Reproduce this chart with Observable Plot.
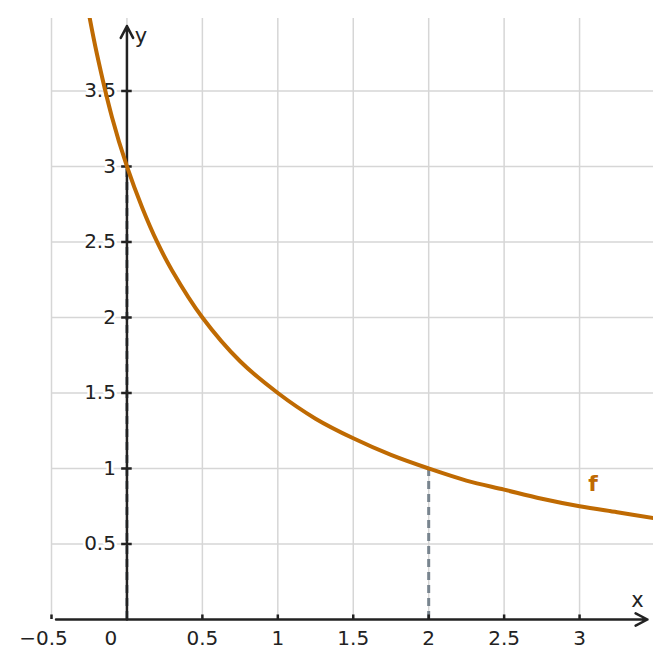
<!DOCTYPE html>
<html><head><meta charset="utf-8">
<script src="https://cdn.jsdelivr.net/npm/d3@7"></script>
<script src="https://cdn.jsdelivr.net/npm/@observablehq/plot@0.6"></script>
<style>body{margin:0;background:#fff;} svg{display:block;}</style>
</head><body><div id="chart"></div>
<script>
// curve points
const curveX = [-0.25, -0.2, -0.1, 0, 0.1, 0.2, 0.3, 0.5, 0.75, 1, 1.25, 1.5, 1.75, 2, 2.25, 2.5, 2.75, 3, 3.25, 3.5];
const curveY = [4.0, 3.75, 3.33, 3.0, 2.73, 2.5, 2.31, 2.0, 1.71, 1.5, 1.33, 1.2, 1.09, 1.0, 0.92, 0.86, 0.8, 0.75, 0.71, 0.67];
const xTicks = [-0.5, 0, 0.5, 1, 1.5, 2, 2.5, 3];
const xTickLabels = ["−0.5", "0", "0.5", "1", "1.5", "2", "2.5", "3"];
const yTicks = [0.5, 1, 1.5, 2, 2.5, 3, 3.5];
const yTickLabels = ["0.5", "1", "1.5", "2", "2.5", "3", "3.5"];
const marked = {x: 2, y: 1};
const curveLabel = {x: 3.09, y: 0.9, text: "f"};

const curve = curveX.map((x, i) => ({x, y: curveY[i]}));
const xt = xTicks.map((v, i) => ({v, label: xTickLabels[i]}));
const yt = yTicks.map((v, i) => ({v, label: yTickLabels[i]}));
const font = "DejaVu Sans";
const gridColor = "#d6d6d6";
const axisColor = "#222";
const dashColor = "#78848e";
const fColor = "#bf6a02";

const labelStyle = {fontSize: 20, fill: axisColor, stroke: "white", strokeWidth: 5, paintOrder: "stroke"};

const chart = Plot.plot({
  width: 671, height: 668,
  marginLeft: 51, marginRight: 18, marginTop: 18, marginBottom: 49,
  x: {domain: [-0.5, 3.49], axis: null},
  y: {domain: [0, 3.98], axis: null},
  style: {fontFamily: font, background: "#fff"},
  marks: [
    Plot.ruleX(xTicks, {x: d => d, y1: 0, y2: 3.98, stroke: gridColor, strokeWidth: 1.5}),
    Plot.ruleY(yTicks, {y: d => d, x1: -0.5, x2: 3.49, stroke: gridColor, strokeWidth: 1.5}),
    // tick labels (with white halo over the grid)
    Plot.text(xt.filter(d => d.v > 0), {x: "v", y: 0, text: "label", dy: 19, ...labelStyle}),
    Plot.text(xt.filter(d => d.v === 0), {x: "v", y: 0, text: "label", dy: 19, dx: -16, ...labelStyle}),
    Plot.text(xt.filter(d => d.v < 0), {x: "v", y: 0, text: "label", dy: 19, dx: -8, ...labelStyle}),
    Plot.text(yt, {x: 0, y: "v", text: "label", dx: -11, textAnchor: "end", ...labelStyle}),
    Plot.ruleX([0], {y1: 0, y2: 3, stroke: dashColor, strokeWidth: 3, strokeDasharray: "8,5"}),
    Plot.ruleX([marked], {x: "x", y1: 0, y2: "y", stroke: dashColor, strokeWidth: 3, strokeDasharray: "8,5"}),
    // axes
    Plot.arrow([{x1: -0.47, y1: 0, x2: 3.45, y2: 0}], {x1: "x1", y1: "y1", x2: "x2", y2: "y2", stroke: axisColor, strokeWidth: 2.5, headLength: 8, headAngle: 55}),
    Plot.arrow([{x1: 0, y1: 0, x2: 0, y2: 3.93}], {x1: "x1", y1: "y1", x2: "x2", y2: "y2", stroke: axisColor, strokeWidth: 2.5, headLength: 8, headAngle: 55}),
    Plot.ruleX(xTicks.filter(v => v !== 0), {x: d => d, y1: 0, y2: 0.03, stroke: axisColor, strokeWidth: 2.5}),
    Plot.ruleY(yTicks, {y: d => d, x1: -0.035, x2: 0.035, stroke: axisColor, strokeWidth: 2.5}),
    Plot.text(["y"], {x: 0, y: 3.93, text: d => d, dx: 14, dy: 10, fontSize: 21, fill: axisColor}),
    Plot.text(["x"], {x: 3.45, y: 0, text: d => d, dx: -10, dy: -19, fontSize: 21, fill: axisColor}),
    // function
    Plot.line(curve, {x: "x", y: "y", stroke: fColor, strokeWidth: 4, curve: "catmull-rom", clip: true}),
    Plot.text([curveLabel], {x: "x", y: "y", text: "text", fontSize: 22, fontWeight: "bold", fill: fColor})
  ]
});
document.getElementById("chart").append(chart);
</script>
</body></html>
